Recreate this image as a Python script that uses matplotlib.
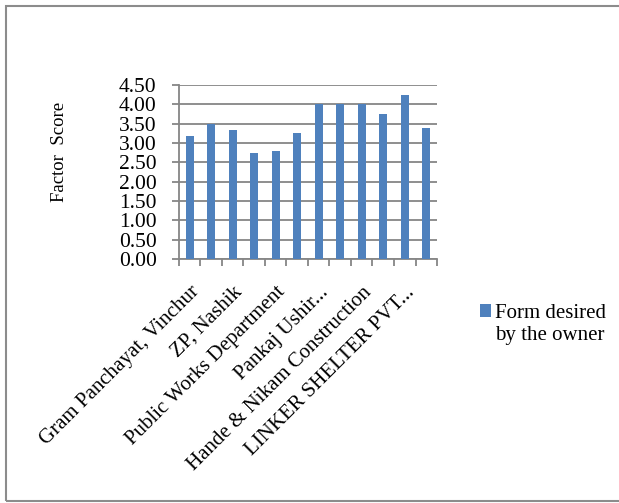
import numpy as np
import matplotlib.pyplot as plt
from matplotlib.patches import Rectangle

categories = ["Gram Panchayat, Vinchur", "", "ZP, Nashik", "", "Public Works Department", "",
              "Pankaj Ushir...", "", "Hande & Nikam Construction", "", "LINKER SHELTER PVT...", ""]
scores = [3.17, 3.50, 3.33, 2.75, 2.80, 3.25, 4.00, 4.00, 4.00, 3.75, 4.25, 3.40]
series_name = "Form desired\nby the owner"
yticks = np.arange(0, 4.51, 0.5)

plt.rcParams['font.family'] = ['Liberation Serif', 'DejaVu Serif']

fig = plt.figure(figsize=(6.19, 5.03), dpi=100)
ax = fig.add_axes([0.289, 0.485, 0.417, 0.346])

grid_col = '#868686'
x = np.arange(len(scores))
bars = ax.bar(x, scores, width=0.38, color='#4F81BD', zorder=3, label=series_name)

ax.set_ylim(0, 4.5)
ax.set_xlim(-0.5, len(scores) - 0.5)
ax.set_yticks(yticks)
ax.set_yticklabels([f"{v:.2f}" for v in yticks], fontsize=15.5)
ax.yaxis.grid(True, color=grid_col, lw=1.3, zorder=0)

ax.set_xticks(x)
ax.set_xticklabels(categories, rotation=45, ha='right', rotation_mode='anchor', fontsize=15)
ax.tick_params(axis='x', which='major', length=0, pad=17)
ax.set_xticks(np.arange(-0.5, len(scores), 1), minor=True)
ax.tick_params(axis='x', which='minor', length=5, color=grid_col, width=1.3)
ax.tick_params(axis='y', length=5, color=grid_col, width=1.3, pad=11)

for s in ['top', 'right']:
    ax.spines[s].set_visible(False)
for s in ['left', 'bottom']:
    ax.spines[s].set_color(grid_col)
    ax.spines[s].set_linewidth(1.3)

fig.text(60 / 619, 1 - 152 / 503, "Factor  Score", rotation=90, fontsize=13.5,
         ha='center', va='center')

leg = ax.legend(loc='upper left', bbox_to_anchor=(480 / 619, 1 - 304 / 503),
                bbox_transform=fig.transFigure, frameon=False, fontsize=15,
                handlelength=0.55, handleheight=0.55, handletextpad=0.15,
                borderaxespad=0, borderpad=0, labelspacing=0)
for col in leg._legend_handle_box.get_children():
    for row in col.get_children():
        row.align = 'top'

border = Rectangle((6 / 619, 2 / 503), 1.0, 1 - 8 / 503, transform=fig.transFigure,
                   fill=False, edgecolor='#8c8c8c', lw=1.5)
fig.patches.append(border)

fig.savefig('out.png', dpi=100)
